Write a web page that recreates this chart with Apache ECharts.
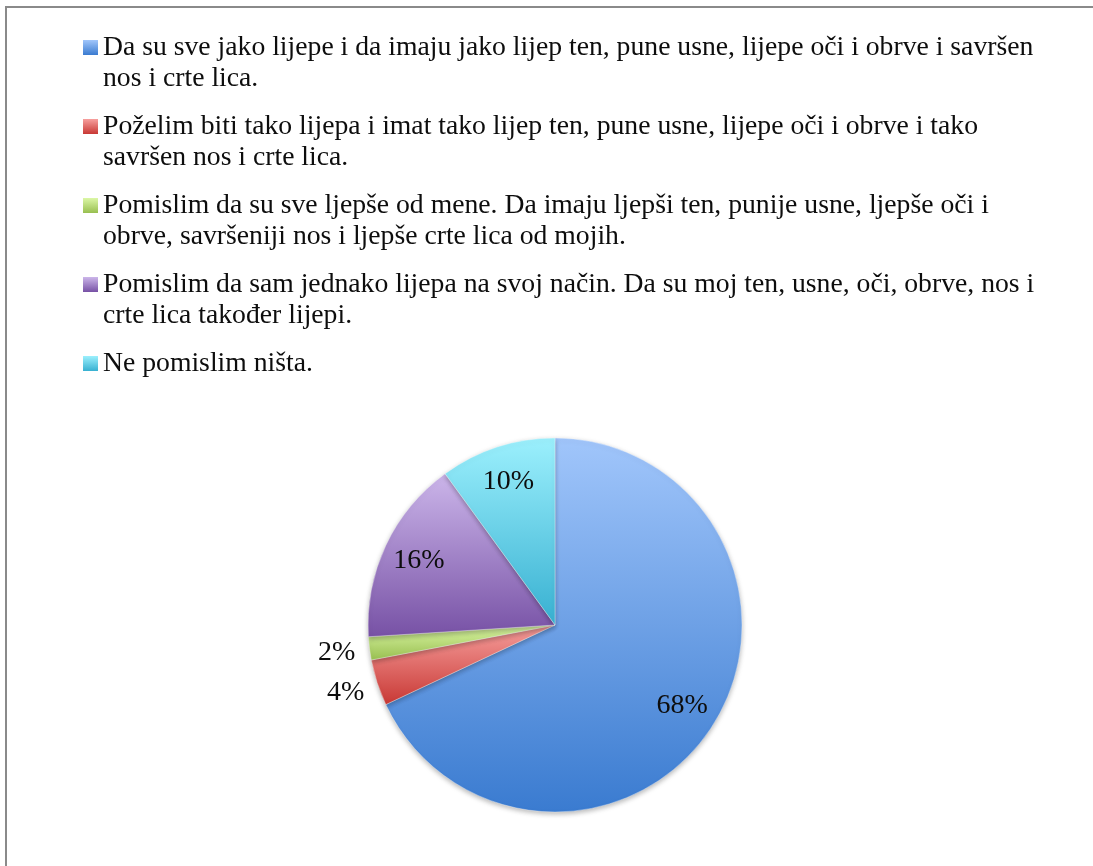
<!DOCTYPE html>
<html>
<head>
<meta charset="utf-8">
<script src="https://cdn.jsdelivr.net/npm/echarts@6/dist/echarts.min.js"></script>
<style>
  html, body { margin: 0; padding: 0; background: #ffffff; }
  #chart { width: 1093px; height: 866px; }
</style>
</head>
<body>
<div id="chart"></div>
<script>
// Answer options, as wrapped lines for the legend
const legendLines = [
  ['Da su sve jako lijepe i da imaju jako lijep ten, pune usne, lijepe oči i obrve i savršen', 'nos i crte lica.'],
  ['Poželim biti tako lijepa i imat tako lijep ten, pune usne, lijepe oči i obrve i tako', 'savršen nos i crte lica.'],
  ['Pomislim da su sve ljepše od mene. Da imaju ljepši ten, punije usne, ljepše oči i', 'obrve, savršeniji nos i ljepše crte lica od mojih.'],
  ['Pomislim da sam jednako lijepa na svoj način. Da su moj ten, usne, oči, obrve, nos i', 'crte lica također lijepi.'],
  ['Ne pomislim ništa.']
];
const categories = legendLines.map(l => l.join(' '));

// Share of answers, percent
const values = [68, 4, 2, 16, 10];

// Slice gradients: [top, bottom]
const palette = [
  ['#a1c6fb', '#3a7bd0'],
  ['#f7a09e', '#c83834'],
  ['#dcf7a6', '#98bf50'],
  ['#ccb6ea', '#7751a5'],
  ['#9cf0fd', '#37b0d1']
];

const FONT = 'Liberation Serif';

function grad(i) {
  return new echarts.graphic.LinearGradient(0, 0, 0, 1, [
    { offset: 0, color: palette[i][0] },
    { offset: 1, color: palette[i][1] }
  ]);
}

const CENTER = [555, 625];
const R = 187;

const chart = echarts.init(document.getElementById('chart'), null, { renderer: 'canvas' });

const labelStyle = {
  fontFamily: FONT,
  fontSize: 28,
  color: '#0d0d0d'
};

chart.setOption({
  animation: false,
  backgroundColor: '#ffffff',
  graphic: [{
    type: 'rect',
    silent: true,
    z: -10,
    shape: { x: 6, y: 7, width: 1300, height: 1000 },
    style: { fill: 'none', stroke: '#8a8a8a', lineWidth: 2 }
  }],
  legend: {
    orient: 'vertical',
    left: 83,
    top: 1,
    padding: 0,
    itemWidth: 15,
    itemHeight: 15,
    itemGap: -14,
    icon: 'rect',
    selectedMode: false,
    itemStyle: { borderWidth: 0, shadowBlur: 0 },
    textStyle: { fontFamily: FONT, fontSize: 27.7, lineHeight: 31, color: '#0d0d0d' },
    data: categories,
    // Leading blank line keeps the first text line level with the marker
    formatter: function (name) {
      const lines = legendLines[categories.indexOf(name)];
      return '\n' + lines.join('\n') + (lines.length === 1 ? '\n ' : '');
    }
  },
  series: [
    {
      type: 'pie',
      center: CENTER,
      radius: R,
      startAngle: 90,
      clockwise: true,
      avoidLabelOverlap: false,
      label: { show: false },
      labelLine: { show: false },
      emphasis: { disabled: true },
      itemStyle: {
        borderColor: 'rgba(255,255,255,0.35)',
        borderWidth: 1,
        shadowBlur: 5,
        shadowOffsetY: 2,
        shadowColor: 'rgba(0,0,0,0.28)'
      },
      data: values.map((v, i) => ({ name: categories[i], value: v, itemStyle: { color: grad(i) } }))
    },
    {
      // Percent labels placed inside the larger slices
      type: 'pie',
      center: CENTER,
      radius: [108, R],
      startAngle: 90,
      clockwise: true,
      silent: true,
      avoidLabelOverlap: false,
      itemStyle: { color: 'rgba(0,0,0,0)' },
      labelLine: { show: false },
      emphasis: { disabled: true },
      label: Object.assign({ show: true, position: 'inside', formatter: p => p.value + '%' }, labelStyle),
      data: values.map((v, i) => ({ name: categories[i], value: v, label: { show: v >= 5 } }))
    },
    {
      // Percent labels just outside the thin slices
      type: 'pie',
      center: CENTER,
      radius: [196, 238],
      startAngle: 90,
      clockwise: true,
      silent: true,
      avoidLabelOverlap: false,
      itemStyle: { color: 'rgba(0,0,0,0)' },
      labelLine: { show: false },
      emphasis: { disabled: true },
      label: Object.assign({ show: true, position: 'inside', formatter: p => p.value + '%' }, labelStyle),
      data: values.map((v, i) => ({ name: categories[i], value: v, label: { show: v < 5 } }))
    }
  ]
});
</script>
</body>
</html>
